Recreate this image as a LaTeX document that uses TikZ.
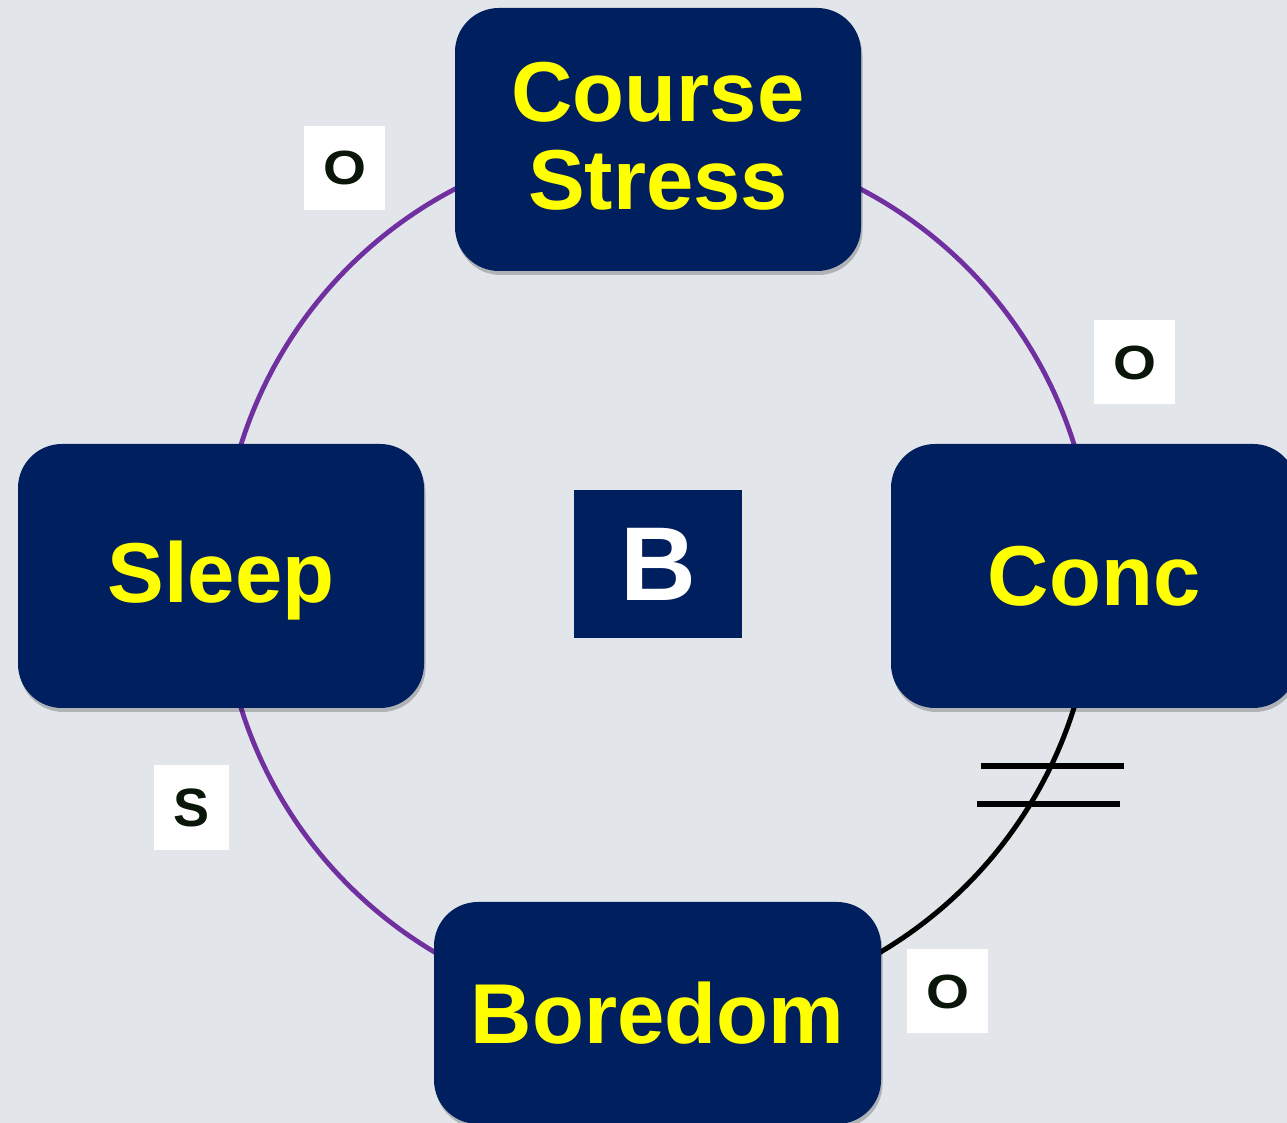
\documentclass[tikz,border=0pt]{standalone}
\usepackage{fontspec}
\setmainfont{Liberation Sans}
\usetikzlibrary{shadows,backgrounds}
\definecolor{paper}{HTML}{E2E6EA}
\definecolor{navy}{HTML}{001F5E}
\definecolor{signyellow}{HTML}{FFFF00}
\definecolor{linkpurple}{HTML}{7030A0}
\definecolor{signink}{HTML}{0A160A}
\pgfdeclarelayer{links}
\pgfsetlayers{background,links,main}
\begin{document}
\begin{tikzpicture}[x=1pt,y=1pt,
  varbox/.style={fill=navy, rounded corners=44pt, text=signyellow,
    font=\fontsize{85}{90}\selectfont\bfseries, align=center, inner sep=0pt,
    minimum width=406pt, minimum height=264pt,
    drop shadow={shadow xshift=1.5pt, shadow yshift=-4pt, opacity=.22, fill=black}},
  loopbox/.style={fill=navy, text=white, inner sep=0pt,
    minimum width=168pt, minimum height=148pt,
    font=\fontsize{105}{110}\selectfont\bfseries},
  polarity/.style={fill=white, text=signink, inner sep=0pt,
    minimum width=81pt, minimum height=84pt,
    font=\fontsize{54}{56}\selectfont\bfseries},
  link/.style={line width=4.8pt, linkpurple},
  delaylink/.style={line width=5pt, black},
  delaybar/.style={line width=6pt, black}]
\useasboundingbox (0,0) rectangle (1287,1123);
\begin{pgfonlayer}{background}
  \fill[paper] (0,0) rectangle (1287,1123);
\end{pgfonlayer}

% variables placed on a circle of radius 437 around (658,547)
\node[varbox, minimum height=263pt, text depth=8pt] (cs) at (658,983.5) {Course\\[-2pt]Stress};
\node[varbox] (conc)  at (1094,547) {Conc};
\node[varbox, text depth=8pt] (sleep) at (221,547) {Sleep};
\node[varbox, minimum width=447pt, minimum height=222pt] (bored) at (657.5,110) {Boredom};

% loop identifier
\node[loopbox] (loop) at (658,559) {B};

% causal links, drawn behind the variables
\begin{pgfonlayer}{links}
  \draw[link] (cs.center) to[bend left=45] (conc.center);
  \draw[delaylink] (conc.center) to[bend left=45] (bored.center);
  \draw[link] (bored.center) to[bend left=45] (sleep.center);
  \draw[link] (sleep.center) to[bend left=45] (cs.center);
\end{pgfonlayer}

% delay mark on the Conc -> Boredom link
\coordinate (d1a) at (981,357);
\coordinate (d1b) at (1124,357);
\coordinate (d2a) at (977,319);
\coordinate (d2b) at (1120,319);
\draw[delaybar] (d1a) -- (d1b);
\draw[delaybar] (d2a) -- (d2b);

% link polarities
\newcommand{\wideO}{\fontsize{48}{50}\selectfont\scalebox{1.15}[1]{O}}
\node[polarity] (p1) at (344.5,955) {\wideO};
\node[polarity] (p2) at (1134.5,760.5) {\wideO};
\node[polarity, minimum width=75pt, minimum height=85pt] (p3) at (191.5,315.5) {S};
\node[polarity] (p4) at (947.5,131.5) {\wideO};
\end{tikzpicture}
\end{document}
